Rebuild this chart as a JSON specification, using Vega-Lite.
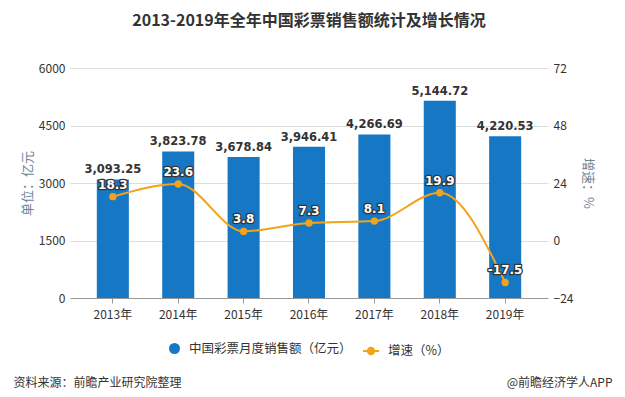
{
  "$schema": "https://vega.github.io/schema/vega-lite/v6.json",
  "autosize": "none",
  "width": 478,
  "height": 230,
  "padding": {"left": 70, "top": 68, "right": 77, "bottom": 99},
  "background": "white",
  "title": {
    "text": "2013-2019年全年中国彩票销售额统计及增长情况",
    "font": "Noto Sans CJK SC",
    "fontSize": 16,
    "fontWeight": "bold",
    "color": "#333333",
    "anchor": "middle",
    "offset": 33
  },
  "config": {
    "view": {"stroke": null},
    "font": "Noto Sans CJK SC",
    "axis": {"labelFont": "Noto Sans CJK SC", "labelFontSize": 12, "labelColor": "#333333", "titleFont": "Noto Sans CJK SC"}
  },
  "data": {
    "values": [
      {"year": "2013年", "sales": 3093.25, "growth": 18.3},
      {"year": "2014年", "sales": 3823.78, "growth": 23.6},
      {"year": "2015年", "sales": 3678.84, "growth": 3.8},
      {"year": "2016年", "sales": 3946.41, "growth": 7.3},
      {"year": "2017年", "sales": 4266.69, "growth": 8.1},
      {"year": "2018年", "sales": 5144.72, "growth": 19.9},
      {"year": "2019年", "sales": 4220.53, "growth": -17.5}
    ]
  },
  "encoding": {
    "x": {
      "field": "year",
      "type": "ordinal",
      "sort": null,
      "scale": {"paddingInner": 0.51, "paddingOuter": 0.41}
    }
  },
  "layer": [
    {
      "encoding": {
        "x": {
          "field": "year", "type": "ordinal", "sort": null,
          "axis": {
            "title": "资料来源：前瞻产业研究院整理",
            "titleFontSize": 12, "titleFontWeight": "normal", "titleColor": "#333333",
            "titleX": -57, "titleY": 84, "titleAlign": "left", "titleBaseline": "middle", "titleAnchor": null,
            "labelAngle": 0, "labelPadding": 6, "domainColor": "#999999", "ticks": true, "tickColor": "#999999", "tickSize": 5, "grid": false
          }
        },
        "y": {
          "field": "sales", "type": "quantitative",
          "scale": {"domain": [0, 6000], "nice": false, "zero": true},
          "axis": {
            "values": [0, 1500, 3000, 4500, 6000],
            "title": "单位：亿元", "titleColor": "#6e8596", "titleFontSize": 13, "titleFontWeight": "normal", "titlePadding": 4,
            "domain": false, "ticks": false, "labelPadding": 5, "grid": true, "gridColor": "#dddddd", "format": "d"
          }
        }
      },
      "layer": [
        {
          "mark": {"type": "bar"},
          "encoding": {
            "color": {
              "datum": "中国彩票月度销售额（亿元）",
              "type": "nominal",
              "scale": {"range": ["#1677c4"]},
              "legend": {
                "title": null, "orient": "none", "legendX": 98, "legendY": 274, "labelLimit": 400,
                "symbolType": "circle", "symbolSize": 121, "labelFontSize": 12.5, "labelColor": "#333333", "labelFont": "Noto Sans CJK SC", "labelOffset": 8
              }
            }
          }
        },
        {
          "mark": {"type": "text", "baseline": "bottom", "dy": -4, "font": "DejaVu Sans", "fontWeight": "bold", "fontSize": 11.5, "color": "#333333"},
          "encoding": {
            "text": {"field": "sales", "type": "quantitative", "format": ",.2f"}
          }
        }
      ]
    },
    {
      "encoding": {
        "x": {
          "field": "year", "type": "ordinal", "sort": null,
          "axis": {
            "title": "@前瞻经济学人APP",
            "titleFontSize": 12, "titleFontWeight": "normal", "titleColor": "#333333",
            "titleX": 542, "titleY": 314, "titleAlign": "right", "titleBaseline": "middle", "titleAnchor": null,
            "labels": false, "ticks": false, "domain": false, "grid": false
          }
        },
        "y": {
          "field": "growth", "type": "quantitative",
          "scale": {"domain": [-24, 72], "nice": false, "zero": false},
          "axis": {
            "orient": "right",
            "values": [-24, 0, 24, 48, 72],
            "title": "增速：%", "titleColor": "#6e8596", "titleFontSize": 13, "titleFontWeight": "normal", "titlePadding": 8,
            "domain": false, "ticks": false, "labelPadding": 5, "grid": false
          }
        }
      },
      "layer": [
        {
          "mark": {"type": "line", "interpolate": "monotone", "strokeWidth": 2},
          "encoding": {
            "color": {
              "datum": "增速（%）",
              "type": "nominal",
              "scale": {"range": ["#f2a31b"]},
              "legend": {
                "title": null, "orient": "none", "legendX": 292, "legendY": 274, "labelLimit": 400,
                "symbolType": "M-1,0L1,0M0.4,0A0.4,0.4,0,1,1,-0.4,0A0.4,0.4,0,1,1,0.4,0Z",
                "symbolSize": 256, "symbolStrokeWidth": 2, "symbolFillColor": "#f2a31b",
                "labelFontSize": 12.5, "labelColor": "#333333", "labelFont": "Noto Sans CJK SC", "labelOffset": 8
              }
            }
          }
        },
        {
          "mark": {"type": "point", "filled": true, "size": 55, "color": "#f2a31b", "opacity": 1}
        },
        {
          "mark": {"type": "text", "baseline": "bottom", "dy": -5, "font": "DejaVu Sans", "fontWeight": "bold", "fontSize": 12, "stroke": "#333333", "strokeWidth": 2.5, "strokeJoin": "round", "fill": "#333333"},
          "encoding": {"text": {"field": "growth", "type": "nominal"}}
        },
        {
          "mark": {"type": "text", "baseline": "bottom", "dy": -5, "font": "DejaVu Sans", "fontWeight": "bold", "fontSize": 12, "fill": "#ffffff"},
          "encoding": {"text": {"field": "growth", "type": "nominal"}}
        }
      ]
    }
  ],
  "resolve": {
    "scale": {"y": "independent", "color": "independent"},
    "axis": {"x": "independent"}
  }
}
